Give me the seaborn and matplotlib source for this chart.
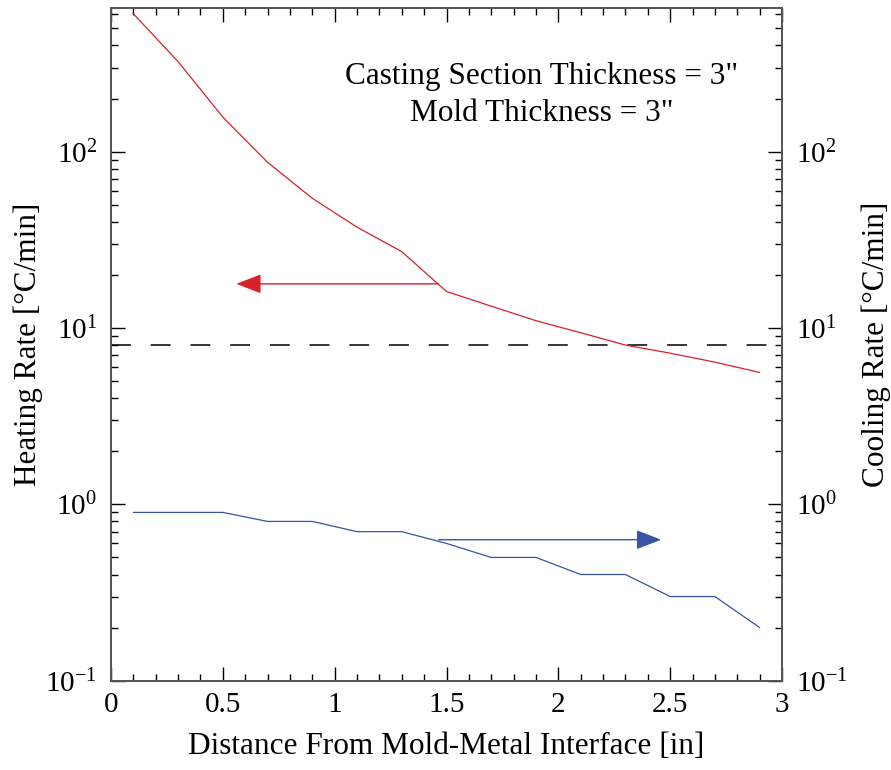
import numpy as np
import pandas as pd
import matplotlib
matplotlib.use("Agg")
import matplotlib.pyplot as plt
import seaborn as sns

# Distance from the mold-metal interface [in]
distance = [0.1, 0.3, 0.5, 0.7, 0.9, 1.1, 1.3, 1.5, 1.7, 1.9, 2.1, 2.3, 2.5, 2.7, 2.9]
# Heating rate in the mold [°C/min]
heating_rate = [605, 324, 157, 87, 54.4, 37.3, 27.1, 16.1, 13.3, 11.0, 9.4, 8.0, 7.2, 6.4, 5.6]
# Cooling rate in the casting [°C/min]
cooling_rate = [0.9, 0.9, 0.9, 0.8, 0.8, 0.7, 0.7, 0.6, 0.5, 0.5, 0.4, 0.4, 0.3, 0.3, 0.2]

criterion_rate = 8.0
x_ticks = [0, 0.5, 1, 1.5, 2, 2.5, 3]
x_tick_labels = ["0", "0.5", "1", "1.5", "2", "2.5", "3"]
y_limits = (0.1, 650)

# Arrows pointing each curve to its axis: (start x, end x, y)
heating_arrow = (1.465, 0.56, 17.8)
cooling_arrow = (1.465, 2.46, 0.63)

note_lines = ['Casting Section Thickness = 3"', 'Mold Thickness = 3"']

RED = "#d8202a"
BLUE = "#3953a4"

sns.set_theme(style="ticks")
plt.rcParams["font.family"] = ["Liberation Serif", "DejaVu Serif"]
plt.rcParams["mathtext.fontset"] = "custom"
plt.rcParams["mathtext.rm"] = "Liberation Serif"
plt.rcParams["mathtext.it"] = "Liberation Serif:italic"
plt.rcParams["mathtext.bf"] = "Liberation Serif:bold"
plt.rcParams["axes.unicode_minus"] = False
for key in ("text.color", "axes.labelcolor", "xtick.color", "ytick.color",
            "xtick.labelcolor", "ytick.labelcolor"):
    plt.rcParams[key] = "black"

df = pd.DataFrame({"distance": distance, "heating": heating_rate, "cooling": cooling_rate})

fig = plt.figure(figsize=(8.91, 7.70), dpi=100)
ax = fig.add_axes([0.1246, 0.1160, 0.8777 - 0.1246, 0.9892 - 0.1160])
ax2 = ax.twinx()

sns.lineplot(data=df, x="distance", y="heating", ax=ax, color=RED, linewidth=0.9)
sns.lineplot(data=df, x="distance", y="cooling", ax=ax2, color=BLUE, linewidth=0.9)

for a in (ax, ax2):
    a.set_yscale("log")
    a.set_ylim(*y_limits)
    a.set_xlim(0, 3)

ax.axhline(criterion_rate, color="black", linewidth=1.1, dashes=(13, 13), zorder=1)

for (x0, x1, yv), col, a in ((heating_arrow, RED, ax), (cooling_arrow, BLUE, ax2)):
    a.annotate("", xy=(x1, yv), xytext=(x0, yv),
               arrowprops=dict(arrowstyle="-|>,head_length=1.3,head_width=0.5",
                               color=col, linewidth=1.0, shrinkA=0, shrinkB=0))

ax.text(1.927, 268, note_lines[0], ha="center", va="center", fontsize=22.5)
ax.text(1.927, 164, note_lines[1], ha="center", va="center", fontsize=22.5)

ax.set_xticks(x_ticks)
ax.set_xticklabels(x_tick_labels)
ax.set_xticks(np.arange(0, 3.01, 0.1), minor=True)

ax.set_xlabel("Distance From Mold-Metal Interface [in]", fontsize=22.5, labelpad=10)
ax.set_ylabel("Heating Rate [°C/min]", fontsize=22.5, labelpad=2)
ax2.set_ylabel("Cooling Rate [°C/min]", fontsize=22.5, labelpad=10)

ax.tick_params(axis="x", which="both", direction="in", top=True, bottom=True,
               labelsize=21, pad=8)
ax.tick_params(axis="y", which="both", direction="in", left=True, right=False,
               labelsize=21, pad=10)
ax2.tick_params(axis="y", which="both", direction="in", right=True, left=False,
                labelsize=21, pad=10)
for a in (ax, ax2):
    a.tick_params(which="major", length=10, width=1.0)
    a.tick_params(which="minor", length=5, width=1.0)
    for s in a.spines.values():
        s.set_color("#555555")
        s.set_linewidth(1.3)
        s.set_visible(True)

fig.savefig("out.png", dpi=100)
